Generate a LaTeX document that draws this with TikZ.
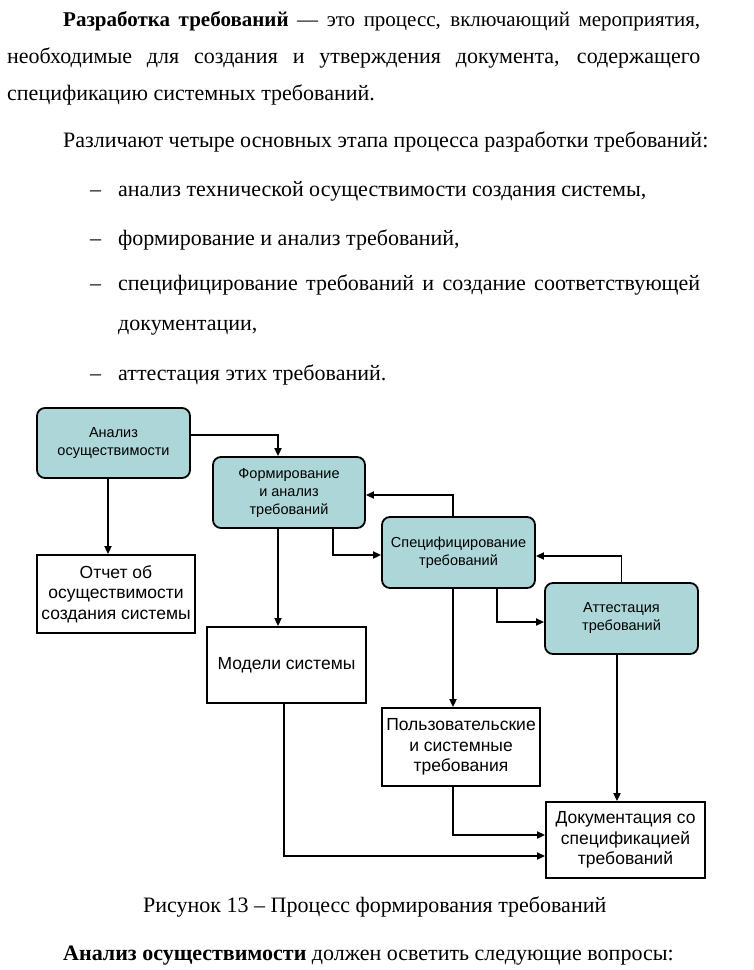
\documentclass[tikz,border=0pt]{standalone}
\usepackage{fontspec}
\setmainfont{Liberation Serif}
\newfontfamily\boxfont{Liberation Sans}
\usetikzlibrary{arrows.meta}

\definecolor{stagefill}{HTML}{ACD6D7}

\begin{document}
\begin{tikzpicture}[
    x=1pt, y=-1pt,
    % Global styles
    line/.style={line width=1.7pt, -{Triangle[length=8pt,width=7pt]}},
    stage/.style={draw=black, line width=1.8pt, fill=stagefill, rounded corners=8pt,
        align=center, font=\boxfont\fontsize{14.5}{18}\selectfont, inner sep=0pt},
    result/.style={draw=black, line width=1.8pt, fill=white,
        align=center, font=\boxfont\fontsize{17.5}{20.5}\selectfont, inner sep=0pt},
    para/.style={anchor=base west, inner sep=0pt, font=\fontsize{22}{26}\selectfont}
    ]
    \useasboundingbox[fill=white] (0,0) rectangle (754,970);

    % ===========================
    % TEXT ABOVE
    % ===========================
    \node[para, font=\fontsize{21}{25}\selectfont] (p1) at (63,26) {\makebox[637pt][s]{\textbf{Разработка требований} — это процесс, включающий мероприятия,}};
    \node[para] (p2) at (7,63) {\makebox[693pt][s]{необходимые для создания и утверждения документа, содержащего}};
    \node[para] (p3) at (7,100) {спецификацию системных требований.};
    \node[para] (p4) at (63,147) {Различают четыре основных этапа процесса разработки требований:};

    % Dashed list
    \node[para] (d1) at (90,196) {–};
    \node[para] (i1) at (118,196) {анализ технической осуществимости создания системы,};
    \node[para] (d2) at (90,245) {–};
    \node[para] (i2) at (118,245) {формирование и анализ требований,};
    \node[para] (d3) at (90,290) {–};
    \node[para] (i3) at (118,290) {\makebox[582pt][s]{специфицирование требований и создание соответствующей}};
    \node[para] (i3b) at (118,330) {документации,};
    \node[para] (d4) at (90,380) {–};
    \node[para] (i4) at (118,380) {аттестация этих требований.};

    % ===========================
    % STAGES
    % ===========================
    \node[stage, minimum width=153pt, minimum height=70pt] (feas) at (113.5,443) {Анализ\\осуществимости};
    \node[stage, minimum width=152pt, minimum height=71pt] (form) at (289,492.5) {Формирование\\и анализ\\требований};
    \node[stage, minimum width=153pt, minimum height=71pt] (spec) at (458.5,552.5) {Специфицирование\\требований};
    \node[stage, minimum width=153pt, minimum height=71pt] (attest) at (621.5,618.5) {Аттестация\\требований};

    % ===========================
    % RESULTS
    % ===========================
    \node[result, minimum width=158pt, minimum height=78pt] (report) at (116,594) {Отчет об\\осуществимости\\создания системы};
    \node[result, minimum width=159pt, minimum height=76pt] (models) at (286.5,665) {Модели системы};
    \node[result, minimum width=158pt, minimum height=78pt] (usreq) at (461,747) {Пользовательские\\и системные\\требования};
    \node[result, minimum width=159pt, minimum height=76pt] (docs) at (625.5,840) {Документация со\\спецификацией\\требований};

    % Edges
    % Stage to stage
    \draw[line] ([yshift=8pt]feas.east) -| ([xshift=-11pt]form.north);
    \draw[line] ([xshift=44pt]form.south) |- ([yshift=-2.5pt]spec.west);
    \draw[line] ([xshift=-5.5pt]spec.north) |- ([yshift=-2.5pt]form.east);
    \draw[line] ([xshift=38.5pt]spec.south) |- ([yshift=-3.5pt]attest.west);
    \draw[line] (attest.north) |- ([yshift=-3.5pt]spec.east);

    % Stage to result
    \draw[line] ([xshift=-5.5pt]feas.south) -- ([xshift=-5.5pt]feas.south |- report.north);
    \draw[line] ([xshift=-11pt]form.south) -- ([xshift=-11pt]form.south |- models.north);
    \draw[line] ([xshift=-5.5pt]spec.south) -- ([xshift=-5.5pt]spec.south |- usreq.north);
    \draw[line] ([xshift=-4.5pt]attest.south) -- ([xshift=-4.5pt]attest.south |- docs.north);

    % Into the documentation
    \draw[line] ([xshift=-8pt]usreq.south) |- ([yshift=5pt]docs.west);
    \draw[line] ([xshift=-2.5pt]models.south) |- ([yshift=-16pt]docs.west);

    % ===========================
    % TEXT BELOW
    % ===========================
    \node[para] (cap) at (143,912) {Рисунок 13 – Процесс формирования требований};
    \node[para] (p5) at (63,960) {\textbf{Анализ осуществимости} должен осветить следующие вопросы:};

\end{tikzpicture}
\end{document}
